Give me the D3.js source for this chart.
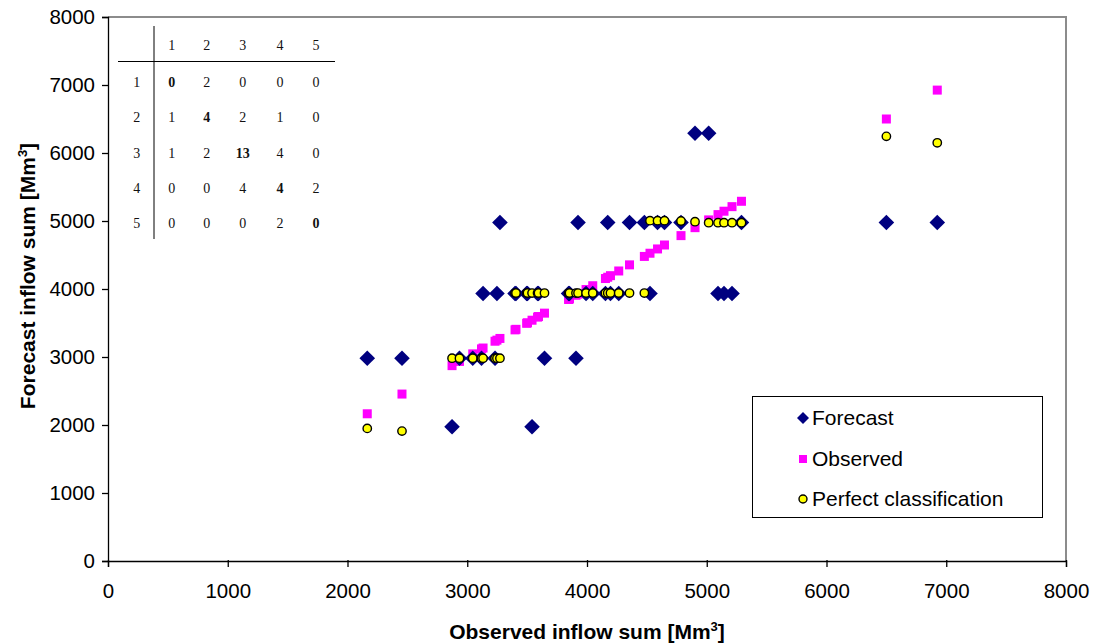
<!DOCTYPE html>
<html><head><meta charset="utf-8">
<script src="https://cdn.jsdelivr.net/npm/d3@7"></script>
<style>body{margin:0;background:#fff}svg{display:block}</style>
</head><body>
<svg id="c" width="1096" height="643"></svg>
<script>
// Observed inflow sums (x) — one per year/event
const observed = [2165,2455,
  2873,2935,3046,3119,3132,3232,3248,3273,
  3399,3407,3496,3503,3541,3587,3595,3645,3846,3854,3908,3925,3992,4048,4154,4173,4196,4265,4355,4479,
  4526,4589,4647,4785,4902,5016,5094,5144,5211,5290,
  6500,6925];
// Forecast class value for each observation
const forecast = [2981,2981,
  1975,2981,2981,2981,3934,2981,3934,4978,
  3934,3934,3934,3934,1975,3934,3934,2981,3934,3934,2981,4978,3934,3934,3934,4978,3934,3934,4978,4978,
  3934,4978,4978,4978,6290,6290,3934,3934,3934,4978,
  4978,4978];
// Perfect classification value for each observation
const perfect = [1950,1910,
  2982,2982,2982,2982,2982,2982,2982,2982,
  3940,3940,3940,3940,3940,3940,3940,3940,3940,3940,3940,3940,3940,3940,3940,3940,3940,3940,3940,3940,
  5005,5005,5005,5000,4990,4975,4975,4975,4975,4975,
  6245,6150];
const xTicks = [0,1000,2000,3000,4000,5000,6000,7000,8000];
const yTicks = [0,1000,2000,3000,4000,5000,6000,7000,8000];
const seriesNames = ["Forecast","Observed","Perfect classification"];
const tableCols = ["1","2","3","4","5"];
const tableRows = ["1","2","3","4","5"];
const tableValues = [
  [0,2,0,0,0],
  [1,4,2,1,0],
  [1,2,13,4,0],
  [0,0,4,4,2],
  [0,0,0,2,0]];

const svg = d3.select("#c");
const L=108, R=1066, T=17, B=561;
const x = d3.scaleLinear().domain([0,8000]).range([L,R]);
const y = d3.scaleLinear().domain([0,8000]).range([B,T]);
const sans = "'Liberation Sans', Arial, sans-serif";
const serif = "'Liberation Serif', 'Times New Roman', serif";

// plot area border (gray top/right)
svg.append("path").attr("d",`M${L},${T}H${R}V${B}`).attr("fill","none")
  .attr("stroke","#8c8c8c").attr("stroke-width",2);

// axes
const xAxis = svg.append("g").attr("transform",`translate(0,${B})`)
  .call(d3.axisBottom(x).tickValues(xTicks).tickSize(6).tickPadding(16).tickFormat(d3.format("d")));
const yAxis = svg.append("g").attr("transform",`translate(${L},0)`)
  .call(d3.axisLeft(y).tickValues(yTicks).tickSize(6).tickPadding(7).tickFormat(d3.format("d")));
[xAxis,yAxis].forEach(a=>{
  a.select(".domain").attr("stroke","#000").attr("stroke-width",1.3);
  a.selectAll(".tick line").attr("stroke","#000").attr("stroke-width",1.3);
  a.selectAll("text").attr("font-family",sans).attr("font-size",20.5).attr("fill","#000");
});
xAxis.selectAll(".tick line").attr("y1",-1);

// axis titles
const xt = svg.append("text").attr("x",587).attr("y",639).attr("text-anchor","middle")
  .attr("font-family",sans).attr("font-size",21).attr("font-weight","bold");
xt.append("tspan").text("Observed inflow sum [Mm");
xt.append("tspan").attr("dy",-8).attr("font-size",13).text("3");
xt.append("tspan").attr("dy",8).text("]");
const yt = svg.append("text").attr("transform","translate(35,276) rotate(-90)").attr("text-anchor","middle")
  .attr("font-family",sans).attr("font-size",21).attr("font-weight","bold");
yt.append("tspan").text("Forecast inflow sum [Mm");
yt.append("tspan").attr("dy",-8).attr("font-size",13).text("3");
yt.append("tspan").attr("dy",8).text("]");

const pts = observed.map((o,i)=>({o, f:forecast[i], p:perfect[i]}));
function diamondPath(cx,cy,r){return `M${cx},${cy-r}L${cx+r},${cy}L${cx},${cy+r}L${cx-r},${cy}Z`;}

// Observed (squares)
svg.append("g").selectAll("rect").data(pts).join("rect")
  .attr("x",d=>x(d.o)-4.5).attr("y",d=>y(d.o)-4.5).attr("width",9).attr("height",9)
  .attr("fill","#ff00ff");
// Forecast (diamonds)
svg.append("g").selectAll("path").data(pts).join("path")
  .attr("d",d=>diamondPath(x(d.o),y(d.f),7.8)).attr("fill","#000080");
// Perfect classification (circles)
svg.append("g").selectAll("circle").data(pts).join("circle")
  .attr("cx",d=>x(d.o)).attr("cy",d=>y(d.p)).attr("r",4.2)
  .attr("fill","#ffff00").attr("stroke","#000").attr("stroke-width",1.4);

// legend
const lg = svg.append("g");
lg.append("rect").attr("x",752.5).attr("y",396.5).attr("width",290).attr("height",121)
  .attr("fill","#fff").attr("stroke","#000").attr("stroke-width",1);
const ly = [418,459,499];
lg.append("path").attr("d",diamondPath(803,ly[0],6)).attr("fill","#000080");
lg.append("rect").attr("x",799).attr("y",ly[1]-4).attr("width",8).attr("height",8).attr("fill","#ff00ff");
lg.append("circle").attr("cx",803).attr("cy",ly[2]).attr("r",4).attr("fill","#ffff00").attr("stroke","#000").attr("stroke-width",1.4);
seriesNames.forEach((s,i)=>{
  lg.append("text").attr("x",812).attr("y",ly[i]+7).attr("font-family",sans).attr("font-size",21).text(s);
});

// confusion table
const tb = svg.append("g").attr("font-family",serif).attr("font-size",14).attr("text-anchor","middle").attr("fill","#111");
tb.append("line").attr("x1",154).attr("x2",154).attr("y1",26).attr("y2",239).attr("stroke","#000").attr("stroke-width",1);
tb.append("line").attr("x1",118).attr("x2",335).attr("y1",61.5).attr("y2",61.5).attr("stroke","#000").attr("stroke-width",1);
const colX = [171.7,206.7,242.7,280,316];
const rowY = [81.7,117.3,152.7,188.3,222.7];
tableCols.forEach((c,j)=>tb.append("text").attr("x",colX[j]).attr("y",45+5).text(c));
tableRows.forEach((r,i)=>{
  tb.append("text").attr("x",136.7).attr("y",rowY[i]+5).text(r);
  tableValues[i].forEach((v,j)=>{
    tb.append("text").attr("x",colX[j]).attr("y",rowY[i]+5)
      .attr("font-weight",i===j?"bold":"normal").text(v);
  });
});
</script>
</body></html>
